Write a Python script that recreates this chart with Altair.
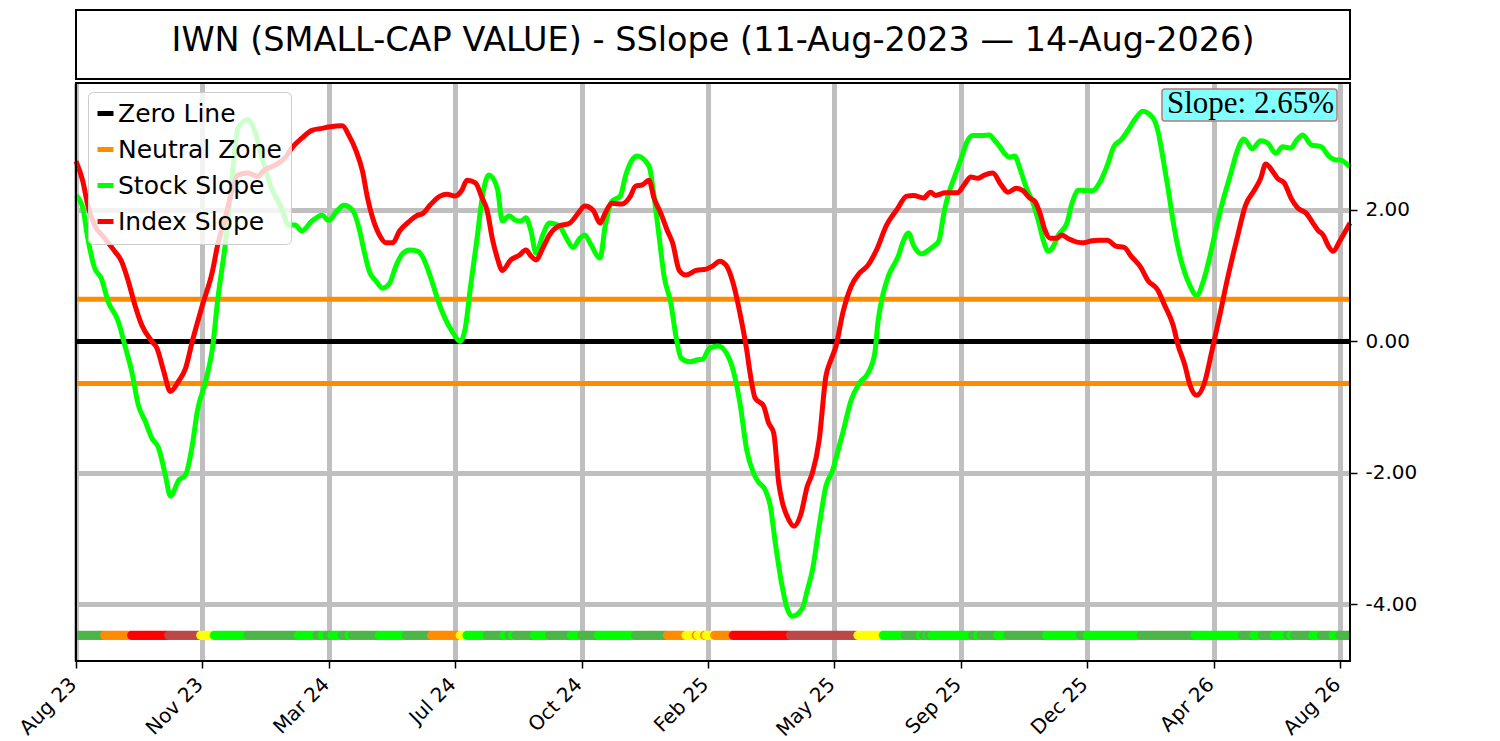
import altair as alt
import pandas as pd

TITLE = "IWN (SMALL-CAP VALUE) - SSlope (11-Aug-2023 \u2014 14-Aug-2026)"
LAST_IDX = 756  # trading-day index of the last session

xtick_idx = [0, 75, 150, 225, 300, 375, 450, 525, 600, 675, 750]
xtick_labels = ["Aug 23", "Nov 23", "Mar 24", "Jul 24", "Oct 24", "Feb 25",
                "May 25", "Sep 25", "Dec 25", "Apr 26", "Aug 26"]
ytick_vals = [-4, -2, 0, 2]
ytick_labels = ["-4.00", "-2.00", "0.00", "2.00"]

# Stock slope (green)
stock_idx = [0, 4, 7, 11, 15, 19, 25, 29, 33, 37,
             41, 45, 49, 53, 56, 61, 65, 69, 72, 77,
             81, 84, 89, 93, 96, 102, 106, 111, 116, 122,
             126, 130, 134, 140, 146, 150, 155, 159, 164, 168,
             171, 174, 178, 182, 186, 190, 194, 198, 203, 206,
             209, 212, 215, 219, 223, 228, 231, 234, 238, 241,
             245, 250, 253, 257, 261, 264, 267, 270, 273, 277,
             281, 287, 291, 295, 299, 302, 305, 311, 314, 318,
             323, 326, 330, 333, 340, 343, 346, 349, 353, 356,
             359, 364, 369, 372, 376, 381, 386, 390, 394, 398,
             402, 405, 409, 412, 415, 419, 422, 425, 431, 434,
             437, 441, 445, 449, 451, 455, 460, 465, 470, 474,
             476, 479, 482, 488, 491, 494, 497, 502, 506, 509,
             512, 515, 518, 521, 525, 529, 532, 538, 542, 545,
             548, 551, 554, 557, 560, 564, 568, 571, 574, 577,
             580, 583, 588, 591, 595, 603, 608, 612, 616, 620,
             624, 629, 633, 639, 642, 645, 648, 651, 654, 657,
             661, 665, 669, 673, 677, 681, 685, 689, 693, 698,
             703, 707, 712, 716, 721, 724, 728, 733, 739, 743,
             748, 750, 756]
stock_val = [2.22, 2.03, 1.57, 1.12, 0.96, 0.61, 0.31, -0.06, -0.45, -0.97,
             -1.21, -1.47, -1.62, -2.03, -2.35, -2.11, -2.03, -1.58, -1.06, -0.60,
             -0.10, 0.61, 1.57, 2.59, 3.24, 3.37, 3.20, 2.74, 2.33, 2.03,
             1.77, 1.77, 1.68, 1.83, 1.92, 1.84, 1.99, 2.07, 2.00, 1.72,
             1.37, 1.07, 0.92, 0.81, 0.88, 1.16, 1.34, 1.39, 1.37, 1.27,
             1.08, 0.85, 0.61, 0.35, 0.16, 0.00, 0.20, 0.81, 1.57, 2.18,
             2.53, 2.33, 1.83, 1.91, 1.84, 1.83, 1.88, 1.68, 1.34, 1.62,
             1.80, 1.75, 1.57, 1.43, 1.57, 1.62, 1.50, 1.27, 1.75, 2.13,
             2.21, 2.51, 2.76, 2.82, 2.67, 2.21, 1.60, 0.99, 0.58, 0.08,
             -0.25, -0.31, -0.28, -0.27, -0.10, -0.07, -0.18, -0.44, -0.94, -1.65,
             -2.00, -2.14, -2.26, -2.50, -3.07, -3.72, -4.06, -4.18, -4.06, -3.78,
             -3.48, -2.81, -2.20, -1.96, -1.77, -1.39, -0.89, -0.63, -0.48, -0.18,
             0.32, 0.73, 0.99, 1.30, 1.53, 1.65, 1.46, 1.33, 1.39, 1.45,
             1.53, 1.95, 2.26, 2.48, 2.76, 3.05, 3.13, 3.13, 3.14, 3.06,
             2.97, 2.86, 2.80, 2.82, 2.64, 2.33, 2.10, 1.84, 1.54, 1.37,
             1.45, 1.62, 1.80, 2.10, 2.30, 2.29, 2.44, 2.68, 2.97, 3.06,
             3.20, 3.40, 3.50, 3.40, 3.20, 2.79, 2.33, 1.83, 1.42, 1.12,
             0.85, 0.70, 0.92, 1.31, 1.77, 2.18, 2.53, 2.89, 3.08, 2.93,
             3.05, 3.02, 2.86, 2.96, 2.94, 3.05, 3.14, 2.99, 2.96, 2.83,
             2.76, 2.76, 2.65]

# Index slope (red)
index_idx = [0, 4, 7, 11, 17, 23, 27, 31, 35, 39,
             45, 48, 52, 56, 61, 65, 69, 75, 81, 84,
             89, 93, 96, 102, 108, 111, 118, 124, 128, 134,
             140, 146, 150, 158, 162, 166, 170, 173, 176, 180,
             184, 188, 192, 198, 202, 206, 210, 216, 220, 225,
             229, 232, 237, 241, 244, 247, 250, 253, 258, 263,
             267, 270, 273, 277, 281, 286, 293, 298, 302, 307,
             311, 314, 318, 324, 329, 332, 336, 340, 343, 347,
             351, 354, 358, 362, 368, 374, 378, 382, 386, 390,
             394, 398, 400, 403, 408, 411, 414, 417, 419, 422,
             426, 430, 434, 437, 441, 445, 448, 451, 455, 460,
             465, 470, 475, 481, 487, 493, 497, 503, 507, 510,
             516, 523, 527, 531, 535, 539, 544, 549, 553, 558,
             562, 566, 569, 572, 575, 578, 582, 585, 589, 594,
             598, 603, 607, 612, 617, 622, 626, 632, 636, 642,
             646, 651, 654, 658, 661, 665, 670, 674, 678, 683,
             689, 694, 699, 703, 706, 710, 713, 717, 721, 725,
             730, 734, 737, 740, 743, 746, 750, 756]
index_val = [2.74, 2.44, 2.07, 1.77, 1.57, 1.37, 1.22, 0.92, 0.55, 0.25,
             0.00, -0.10, -0.45, -0.76, -0.60, -0.41, 0.00, 0.55, 1.07, 1.46,
             1.92, 2.33, 2.53, 2.56, 2.51, 2.59, 2.68, 2.79, 2.94, 3.09,
             3.21, 3.24, 3.26, 3.28, 3.13, 2.91, 2.59, 2.18, 1.88, 1.62,
             1.50, 1.50, 1.68, 1.83, 1.91, 1.95, 2.07, 2.21, 2.24, 2.21,
             2.30, 2.45, 2.41, 2.18, 1.99, 1.57, 1.27, 1.08, 1.24, 1.31,
             1.39, 1.30, 1.24, 1.42, 1.62, 1.75, 1.80, 1.95, 2.06, 1.99,
             1.80, 1.95, 2.10, 2.09, 2.21, 2.36, 2.38, 2.45, 2.18, 1.95,
             1.68, 1.50, 1.08, 1.01, 1.08, 1.10, 1.15, 1.22, 1.15, 0.88,
             0.43, -0.13, -0.48, -0.86, -0.98, -1.24, -1.39, -2.15, -2.43, -2.66,
             -2.81, -2.64, -2.20, -2.00, -1.50, -0.53, -0.28, -0.07, 0.43, 0.84,
             1.04, 1.16, 1.39, 1.77, 2.00, 2.21, 2.22, 2.18, 2.27, 2.22,
             2.26, 2.26, 2.38, 2.50, 2.48, 2.53, 2.56, 2.38, 2.27, 2.33,
             2.29, 2.18, 2.13, 1.95, 1.69, 1.57, 1.57, 1.62, 1.56, 1.51,
             1.50, 1.53, 1.54, 1.54, 1.45, 1.43, 1.30, 1.12, 0.93, 0.78,
             0.55, 0.25, -0.06, -0.36, -0.66, -0.82, -0.60, -0.15, 0.31, 0.92,
             1.57, 2.07, 2.29, 2.48, 2.70, 2.59, 2.48, 2.41, 2.18, 2.03,
             1.95, 1.80, 1.69, 1.62, 1.46, 1.37, 1.53, 1.80]

zero_level = 0.0
neutral_level = 0.64
current_slope = 2.65

# Regime band along the bottom (run starts, trading-day index) and state per run
band_start = [0, 17, 33, 55, 74, 82, 102, 132, 143, 146,
              149, 152, 158, 162, 164, 180, 196, 211, 228, 232,
              244, 254, 257, 259, 261, 272, 281, 294, 300, 310,
              332, 351, 362, 368, 369, 373, 374, 379, 390, 424,
              464, 479, 492, 501, 503, 505, 506, 508, 532, 535,
              537, 547, 553, 576, 596, 600, 632, 664, 692, 699,
              704, 711, 719, 721, 723, 734, 739, 746, 750]
band_state = ["green", "orange", "red", "brown", "yellow", "lime", "green", "lime", "green", "lime",
              "green", "lime", "green", "lime", "green", "lime", "green", "orange", "yellow", "lime",
              "green", "lime", "green", "lime", "green", "lime", "green", "lime", "green", "lime",
              "green", "orange", "yellow", "orange", "yellow", "orange", "yellow", "orange", "red", "brown",
              "yellow", "lime", "green", "lime", "green", "lime", "green", "lime", "green", "lime",
              "green", "lime", "green", "lime", "green", "lime", "green", "lime", "green", "lime",
              "green", "lime", "green", "lime", "green", "lime", "green", "lime", "green"]
band_level = -4.47
state_names = ["green", "lime", "orange", "red", "brown", "yellow"]
state_colors = ["#4CB648", "#00FF00", "#FF8C00", "#FF0000", "#BC4848", "#FFFF00"]

series_names = ["Zero Line", "Neutral Zone", "Stock Slope", "Index Slope"]
series_colors = ["#000000", "#FF8C00", "#00FF00", "#FF0000"]

# ---------- data frames ----------
lines_df = pd.concat([
    pd.DataFrame({"idx": stock_idx, "val": stock_val, "series": "Stock Slope"}),
    pd.DataFrame({"idx": index_idx, "val": index_val, "series": "Index Slope"}),
])
ref_df = pd.DataFrame({"val": [zero_level, neutral_level, -neutral_level],
                       "series": ["Zero Line", "Neutral Zone", "Neutral Zone"]})
band_rows = []
for k, start in enumerate(band_start):
    end = band_start[k + 1] if k + 1 < len(band_start) else LAST_IDX + 1
    for i in range(start, end):
        band_rows.append({"idx": i, "val": band_level, "state": band_state[k]})
band_df = pd.DataFrame(band_rows)

# ---------- encodings ----------
FONT = "DejaVu Sans"
xlab = "[" + ",".join("'%s'" % s for s in xtick_labels) + "]"
xval = "[" + ",".join(str(v) for v in xtick_idx) + "]"
ylab = "[" + ",".join("'%s'" % s for s in ytick_labels) + "]"
yval = "[" + ",".join(str(v) for v in ytick_vals) + "]"

x_axis = alt.Axis(values=xtick_idx, labelExpr=xlab + "[indexof(" + xval + ", datum.value)]",
                  labelAngle=315, labelAlign="right", labelBaseline="top",
                  labelFontSize=20, labelFont=FONT, labelColor="black",
                  labelPadding=6, labelOffset=-10,
                  tickSize=7, tickWidth=1.5, tickColor="black",
                  grid=True, gridColor="#bfbfbf", gridWidth=5,
                  domain=False, title=None, labelOverlap=False)
y_axis = alt.Axis(orient="right", values=ytick_vals,
                  labelExpr=ylab + "[indexof(" + yval + ", datum.value)]",
                  labelFontSize=20, labelFont=FONT, labelColor="black", labelPadding=8,
                  tickSize=7, tickWidth=1.5, tickColor="black",
                  grid=True, gridColor="#bfbfbf", gridWidth=5,
                  domain=False, title=None, labelOverlap=False)

x_scale = alt.Scale(domain=[0, LAST_IDX], nice=False, zero=False)
y_scale = alt.Scale(domain=[-4.86, 3.93], nice=False, zero=False)
X = alt.X("idx:Q", scale=x_scale, axis=x_axis)
Y = alt.Y("val:Q", scale=y_scale, axis=y_axis)

TITLE_H = 69
legend = alt.Legend(title=None, orient="none", legendX=12, legendY=TITLE_H + 13,
                    symbolType="stroke", symbolSize=256, symbolStrokeWidth=5,
                    symbolOffset=-4,
                    labelFontSize=25, labelFont=FONT, labelColor="black", labelOffset=0,
                    labelLimit=400, rowPadding=10, padding=9,
                    fillColor="rgba(255,255,255,0.8)",
                    strokeColor="#cccccc", cornerRadius=5)
C = alt.Color("series:N", scale=alt.Scale(domain=series_names, range=series_colors),
              legend=legend)

W, H = 1274, 578

refs = alt.Chart(ref_df).mark_rule(strokeWidth=5).encode(y=Y, color=C)
stock = alt.Chart(lines_df).transform_filter(alt.datum.series == "Stock Slope").mark_line(
    strokeWidth=5, interpolate="monotone").encode(x=X, y=Y, color=C, order="idx:Q")
index = alt.Chart(lines_df).transform_filter(alt.datum.series == "Index Slope").mark_line(
    strokeWidth=5, interpolate="monotone").encode(x=X, y=Y, color=C, order="idx:Q")
band = alt.Chart(band_df).mark_circle(size=83, opacity=1, strokeWidth=0, clip=True).encode(
    x=X, y=Y,
    fill=alt.Fill("state:N", scale=alt.Scale(domain=state_names, range=state_colors), legend=None))

label_df = pd.DataFrame({"label": ["Slope: %.2f%%" % current_slope]})
box = alt.Chart(label_df).mark_rect(fill="#80FFFF", stroke="#BC7878", strokeWidth=1.5,
                                    cornerRadius=3).encode(
    x=alt.value(1086), x2=alt.value(1261), y=alt.value(6), y2=alt.value(38))
box_text = alt.Chart(label_df).mark_text(font="Liberation Serif", fontSize=31, align="right",
                                         baseline="alphabetic", color="black").encode(
    text="label:N", x=alt.value(1258), y=alt.value(30))

# plot frame drawn above the grid lines
frame = alt.Chart(label_df).mark_rect(fill=None, filled=False, stroke="black", strokeWidth=2).encode(
    x=alt.value(0), x2=alt.value(W), y=alt.value(0), y2=alt.value(H))

main = alt.layer(refs, stock, index, band, frame, box, box_text).properties(width=W, height=H)

title_df = pd.DataFrame({"t": [TITLE]})
title_text = alt.Chart(title_df).mark_text(
    font=FONT, fontSize=33.5, color="black", align="center", baseline="middle").encode(
    text="t:N", x=alt.value(W / 2), y=alt.value(31))
title_frame = alt.Chart(title_df).mark_rect(fill=None, filled=False, stroke="black",
                                            strokeWidth=2).encode(
    x=alt.value(0), x2=alt.value(W), y=alt.value(0), y2=alt.value(TITLE_H))
title_panel = alt.layer(title_text, title_frame).properties(width=W, height=TITLE_H)

chart = alt.vconcat(title_panel, main, spacing=0).properties(
    padding={"left": 7, "top": 0, "right": 5, "bottom": 0}
).configure_view(stroke="black", strokeWidth=2).configure(font=FONT)

chart.save("out.html", embed_options={"renderer": "svg", "actions": False})
